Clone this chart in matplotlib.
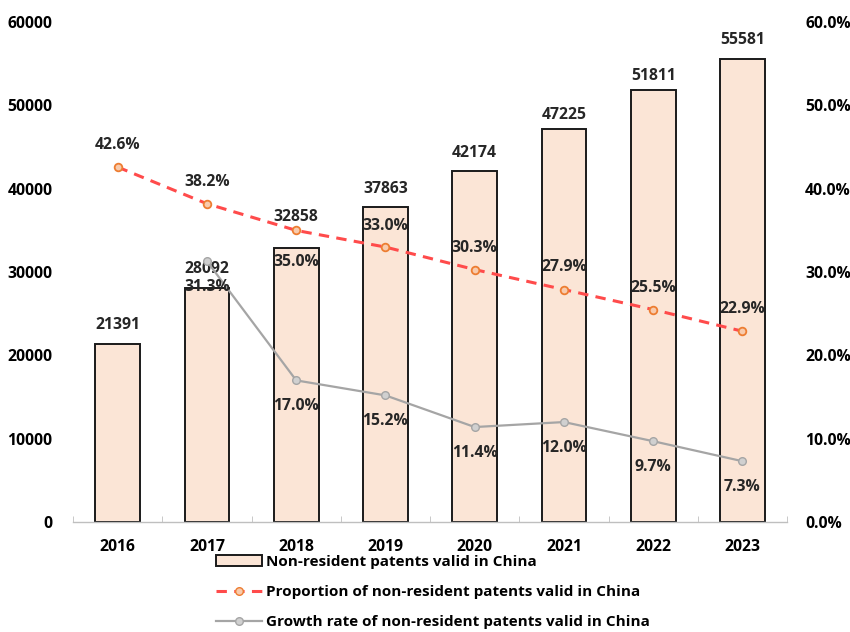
import matplotlib.pyplot as plt
from matplotlib.lines import Line2D
from matplotlib.patches import Patch

years = ['2016', '2017', '2018', '2019', '2020', '2021', '2022', '2023']
patents = [21391, 28092, 32858, 37863, 42174, 47225, 51811, 55581]
proportion = [42.6, 38.2, 35.0, 33.0, 30.3, 27.9, 25.5, 22.9]
growth = [None, 31.3, 17.0, 15.2, 11.4, 12.0, 9.7, 7.3]

plt.rcParams['font.family'] = ['Open Sans', 'DejaVu Sans']
plt.rcParams['font.weight'] = 'bold'

fig = plt.figure(figsize=(8.5, 6.32), dpi=100)
ax = fig.add_axes([0.086, 0.174, 0.84, 0.791])
ax2 = ax.twinx()

x = list(range(len(years)))
ax.bar(x, patents, width=0.5, color='#FBE5D6', edgecolor='#1a1a1a', linewidth=1.4, zorder=2)
ax.set_xlim(-0.5, 7.5)
ax.set_ylim(0, 60000)
ax.set_yticks(range(0, 60001, 10000))
ax.set_xticks(x)
ax.set_xticklabels(years)

# lines go on the secondary axis, drawn above bars
ax.set_zorder(1)
ax2.set_zorder(2)
ax.patch.set_visible(True)
ax2.patch.set_visible(False)

ax2.plot(x, proportion, color='#FF4B4B', linestyle=(0, (3.4, 2.4)), linewidth=2.2,
         marker='o', markersize=5.5, markerfacecolor='#F8CBAD', markeredgecolor='#ED7D31',
         markeredgewidth=1.3)
gx = [i for i, g in zip(x, growth) if g is not None]
gy = [g for g in growth if g is not None]
ax2.plot(gx, gy, color='#A5A5A5', linewidth=1.6, marker='o', markersize=5.5,
         markerfacecolor='#D0D0D0', markeredgecolor='#A5A5A5')
ax2.set_ylim(0, 60)
ax2.set_yticks(range(0, 61, 10))
ax2.set_yticklabels([f'{v:.1f}%' for v in range(0, 61, 10)])

for a in (ax, ax2):
    for s in ('top', 'left', 'right', 'bottom'):
        a.spines[s].set_visible(False)
ax.spines['bottom'].set_visible(True)
ax.spines['bottom'].set_color('#BFBFBF')
ax.spines['bottom'].set_linewidth(1.0)

fs = 11.3
ax.tick_params(axis='y', length=0, pad=15, labelsize=fs)
ax2.tick_params(axis='y', length=0, pad=13, labelsize=fs)
ax.tick_params(axis='x', length=0, pad=12, labelsize=fs)
ax.set_xticks([i + 0.5 for i in range(-1, 8)], minor=True)
ax.tick_params(axis='x', which='minor', length=4, color='#BFBFBF', direction='in')

bar_off = [19, 19, 31, 18, 18, 14, 14, 19]
prop_off = [22, 22, -32, 21, 22, 23, 22, 22]
for i, v in enumerate(patents):
    ax.annotate(str(v), (i, v), xytext=(0, bar_off[i]), textcoords='offset pixels',
                ha='center', va='center', fontsize=fs, fontweight='bold', color='#262626', zorder=5)
for i, v in enumerate(proportion):
    ax2.annotate(f'{v:.1f}%', (i, v), xytext=(0, prop_off[i]), textcoords='offset pixels',
                 ha='center', va='center', fontsize=fs, fontweight='bold', color='#262626')
for i, v in enumerate(growth):
    if v is None:
        continue
    ax2.annotate(f'{v:.1f}%', (i, v), xytext=(0, -26), textcoords='offset pixels',
                 ha='center', va='center', fontsize=fs, fontweight='bold', color='#262626')

handles = [
    Patch(facecolor='#FBE5D6', edgecolor='#1a1a1a', linewidth=1.4),
    Line2D([], [], color='#FF4B4B', linestyle=(0, (3.4, 2.4)), linewidth=2.2, marker='o',
           markersize=5.5, markerfacecolor='#F8CBAD', markeredgecolor='#ED7D31'),
    Line2D([], [], color='#A5A5A5', linewidth=1.6, marker='o', markersize=5.5,
           markerfacecolor='#D0D0D0', markeredgecolor='#A5A5A5'),
]
labels = ['Non-resident patents valid in China',
          'Proportion of non-resident patents valid in China',
          'Growth rate of non-resident patents valid in China']
fig.legend(handles, labels, loc='upper left', bbox_to_anchor=(0.254, 0.122), frameon=False,
           fontsize=11, handlelength=3.0, handletextpad=0.25, labelspacing=1.05,
           borderaxespad=0, borderpad=0)

fig.savefig('out.png', dpi=100)
